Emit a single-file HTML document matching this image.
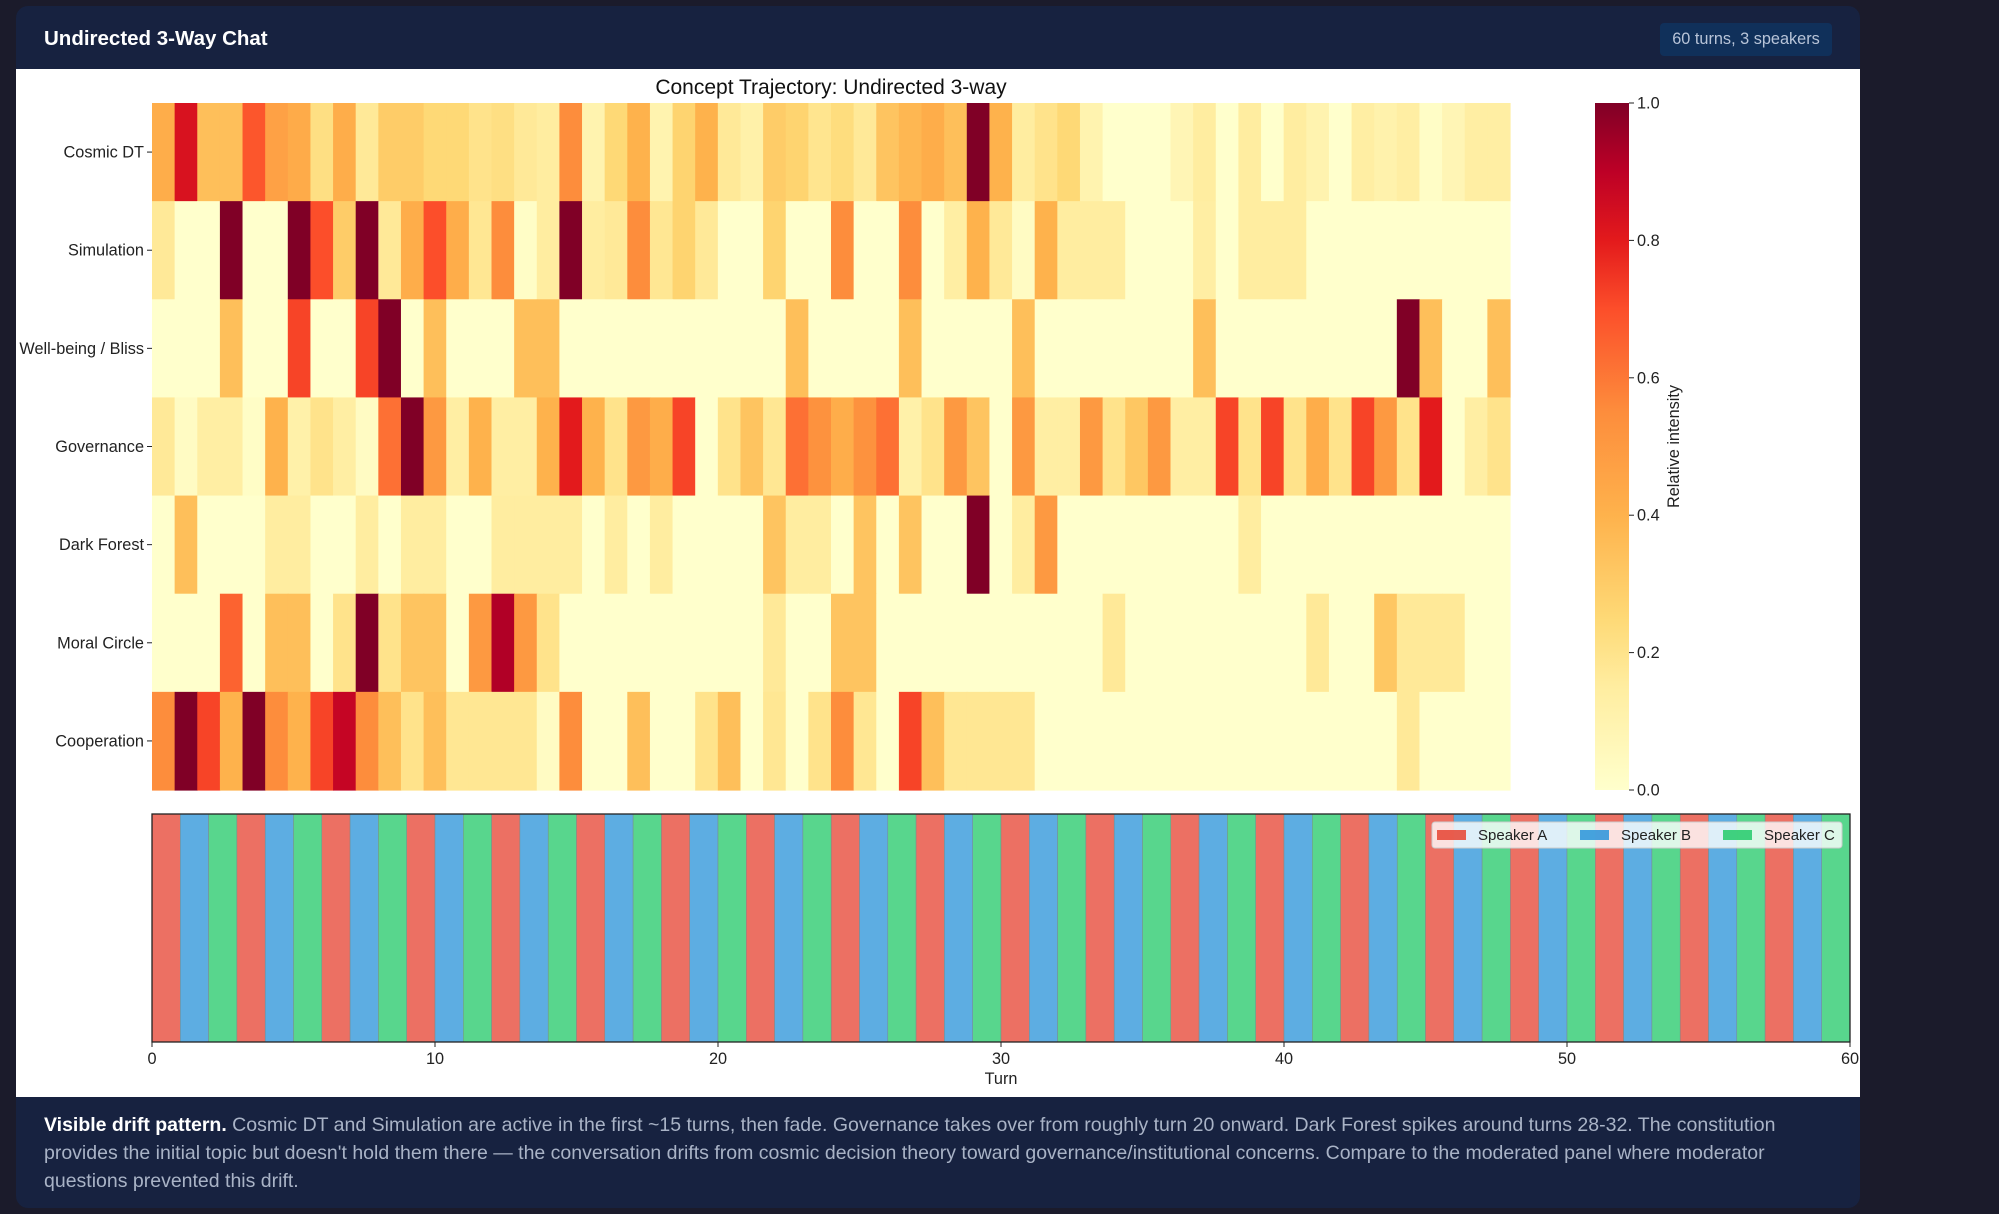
<!DOCTYPE html>
<html><head><meta charset="utf-8"><style>
body{margin:0;width:1999px;height:1214px;background:#1b1b2b;font-family:"Liberation Sans",sans-serif;overflow:hidden;position:relative}
#card{position:absolute;left:16px;top:6px;width:1844px;height:1202px;background:#172240;border-radius:12px;overflow:hidden}
#title{position:absolute;left:28px;top:21px;color:#fff;font-weight:bold;font-size:20.5px}
#badge{position:absolute;left:1644px;top:17px;width:172px;height:33px;background:#10305a;border-radius:4px;color:#b8c4d8;font-size:16.3px;line-height:33px;text-align:center}
#panel{position:absolute;left:0;top:63px;width:1844px;height:1028px;background:#fff}
#desc{position:absolute;left:28px;top:1105px;width:1800px;color:#a9b3c6;font-size:19.5px;line-height:28px;white-space:nowrap}
#desc b{color:#fff}
</style></head><body>
<div id="card">
<div id="title">Undirected 3-Way Chat</div>
<div id="badge">60 turns, 3 speakers</div>
<div id="panel"></div>
<div id="desc"><b>Visible drift pattern.</b> Cosmic DT and Simulation are active in the first ~15 turns, then fade. Governance takes over from roughly turn 20 onward. Dark Forest spikes around turns 28-32. The constitution<br>provides the initial topic but doesn't hold them there — the conversation drifts from cosmic decision theory toward governance/institutional concerns. Compare to the moderated panel where moderator<br>questions prevented this drift.</div>
</div>
<svg id="chart" width="1999" height="1214" style="position:absolute;left:0;top:0"></svg>
<script>
const concepts=["Cosmic DT","Simulation","Well-being / Bliss","Governance","Dark Forest","Moral Circle","Cooperation"];
const rowCosmic=[0.42,0.83,0.35,0.35,0.68,0.47,0.43,0.22,0.42,0.17,0.3,0.3,0.25,0.25,0.2,0.22,0.17,0.15,0.55,0.1,0.25,0.4,0.1,0.27,0.4,0.17,0.12,0.3,0.27,0.19,0.23,0.17,0.33,0.38,0.42,0.35,1.0,0.4,0.15,0.2,0.25,0.1,0,0,0,0.08,0.15,0,0.15,0,0.15,0.1,0,0.14,0.11,0.14,0.02,0.08,0.14,0.14];
const rowSimulation=[0.17,0,0,1.0,0,0,1.0,0.7,0.3,1.0,0.17,0.42,0.7,0.42,0.18,0.55,0.02,0.15,1.0,0.15,0.17,0.55,0.18,0.27,0.17,0,0,0.27,0,0,0.55,0,0,0.55,0,0.14,0.4,0.17,0.03,0.4,0.15,0.15,0.15,0,0,0,0.14,0,0.15,0.15,0.15,0,0,0,0,0,0,0,0,0];
const rowWellbeing=[0,0,0,0.35,0,0,0.72,0,0,0.72,1.0,0,0.35,0,0,0,0.35,0.35,0,0,0,0,0,0,0,0,0,0,0.35,0,0,0,0,0.35,0,0,0,0,0.35,0,0,0,0,0,0,0,0.35,0,0,0,0,0,0,0,0,1.0,0.35,0,0,0.35];
const rowGovernance=[0.17,0.03,0.14,0.14,0.02,0.4,0.12,0.2,0.14,0.03,0.62,1.0,0.5,0.14,0.4,0.14,0.14,0.4,0.8,0.4,0.2,0.5,0.42,0.72,0,0.2,0.33,0.18,0.62,0.53,0.42,0.53,0.62,0.12,0.2,0.5,0.33,0,0.5,0.14,0.14,0.5,0.2,0.32,0.5,0.14,0.14,0.72,0.2,0.72,0.2,0.42,0.2,0.72,0.5,0.2,0.8,0,0.14,0.2];
const rowDarkForest=[0,0.35,0,0,0,0.15,0.15,0,0,0.15,0,0.15,0.15,0,0,0.15,0.15,0.15,0.15,0,0.15,0,0.15,0,0,0,0,0.33,0.15,0.15,0,0.33,0,0.33,0,0,1.0,0,0.15,0.5,0,0,0,0,0,0,0,0,0.15,0,0,0,0,0,0,0,0,0,0,0];
const rowMoral=[0,0,0,0.65,0,0.35,0.35,0,0.2,1.0,0.2,0.33,0.33,0,0.5,0.92,0.5,0.2,0,0,0,0,0,0,0,0,0,0.17,0,0,0.33,0.33,0,0,0,0,0,0,0,0,0,0,0.17,0,0,0,0,0,0,0,0,0.17,0,0,0.32,0.17,0.17,0.17,0,0];
const rowCooperation=[0.55,1.0,0.72,0.4,1.0,0.55,0.4,0.72,0.88,0.55,0.35,0.2,0.35,0.18,0.18,0.18,0.18,0.03,0.55,0,0,0.35,0,0,0.2,0.35,0,0.18,0,0.2,0.55,0.18,0,0.72,0.35,0.18,0.18,0.18,0.18,0,0,0,0,0,0,0,0,0,0,0,0,0,0,0,0,0.17,0,0,0,0];
const speakerOrder=["A","B","C"];
const speakerNames=["Speaker A","Speaker B","Speaker C"];
const turnTicks=[0,10,20,30,40,50,60];
const cbarTicks=[0,0.2,0.4,0.6,0.8,1.0];
const rows=[rowCosmic,rowSimulation,rowWellbeing,rowGovernance,rowDarkForest,rowMoral,rowCooperation];

const NS="http://www.w3.org/2000/svg";
const svg=document.getElementById('chart');
function mk(t,a,p){const e=document.createElementNS(NS,t);for(const k in a)e.setAttribute(k,a[k]);(p||svg).appendChild(e);return e;}
const stops=[[0,[255,255,204]],[0.15,[255,237,160]],[0.25,[254,217,118]],[0.4,[254,178,76]],[0.55,[253,141,60]],[0.7,[252,78,42]],[0.8,[227,26,28]],[0.9,[189,0,38]],[1,[128,0,38]]];
function cmap(v){v=Math.max(0,Math.min(1,v));for(let i=1;i<stops.length;i++){if(v<=stops[i][0]){const a=stops[i-1],b=stops[i];const t=(v-a[0])/(b[0]-a[0]);const c=a[1].map((x,j)=>Math.round(x+(b[1][j]-x)*t));return `rgb(${c})`;}}return 'rgb(128,0,38)';}
const HX0=152,HX1=1510,HY0=103,HY1=790;
const FS=16.3;
const nT=rows[0].length;
const cw=(HX1-HX0)/nT, rh=(HY1-HY0)/concepts.length;
const hx=i=>HX0+i*cw, hy=r=>HY0+r*rh;
let t=mk('text',{x:(HX0+HX1)/2,y:94,'text-anchor':'middle','font-size':21,fill:'#111'});t.textContent="Concept Trajectory: Undirected 3-way";


rows.forEach((row,r)=>{
  row.forEach((v,i)=>{
    const c=mk('rect',{x:hx(i),y:hy(r),width:cw+0.6,height:rh+0.6,fill:cmap(v)});
    
    
  });
  const cy=hy(r)+rh/2;
  mk('line',{x1:HX0-5,x2:HX0,y1:cy,y2:cy,stroke:'#222'});
  const l=mk('text',{x:HX0-8,y:cy+5.5,'text-anchor':'end','font-size':FS,fill:'#222'});l.textContent=concepts[r];
  
  
});
const CX0=1595,CX1=1629;
const g=mk('linearGradient',{id:'cg',x1:0,y1:1,x2:0,y2:0},mk('defs',{}));
stops.forEach(s=>mk('stop',{offset:s[0],'stop-color':`rgb(${s[1]})`},g));
const cb=mk('rect',{x:CX0,y:HY0,width:CX1-CX0,height:HY1-HY0,fill:'url(#cg)'});


const cyv=v=>HY1-v*(HY1-HY0);
cbarTicks.forEach(v=>{mk('line',{x1:CX1,x2:CX1+5,y1:cyv(v),y2:cyv(v),stroke:'#222'});
 const l=mk('text',{x:CX1+8,y:cyv(v)+5.5,'font-size':FS,fill:'#222'});l.textContent=v.toFixed(1);
 
 });
t=mk('text',{transform:`translate(1679,${(HY0+HY1)/2}) rotate(-90)`,'text-anchor':'middle','font-size':FS,fill:'#222'});t.textContent="Relative intensity";


const SX0=152,SX1=1850,SY0=814,SY1=1042;
const sx=v=>SX0+v*(SX1-SX0)/60;
const scol={A:'#ec7063',B:'#5dade2',C:'#58d68d'};
for(let i=0;i<nT;i++){const s=speakerOrder[i%3];
 const b=mk('rect',{x:sx(i),y:SY0,width:sx(i+1)-sx(i),height:SY1-SY0,fill:scol[s],stroke:'#7a8a8a','stroke-width':0.5});
 
 }
mk('rect',{x:SX0,y:SY0,width:SX1-SX0,height:SY1-SY0,fill:'none',stroke:'#222','stroke-width':1.3});
turnTicks.forEach(v=>{mk('line',{x1:sx(v),x2:sx(v),y1:SY1,y2:SY1+5,stroke:'#222'});
 const l=mk('text',{x:sx(v),y:SY1+22,'text-anchor':'middle','font-size':FS,fill:'#222'});l.textContent=v;
 
 });
t=mk('text',{x:(SX0+SX1)/2,y:1084,'text-anchor':'middle','font-size':FS,fill:'#222'});t.textContent="Turn";


const lg=mk('rect',{x:1432,y:822,width:410,height:26,rx:3,fill:'#fff','fill-opacity':0.8,stroke:'#ccc'});


const lcol=['#e74c3c','#3498db','#2ecc71'];
speakerNames.forEach((n,i)=>{const x0=1437+i*143;
 mk('rect',{x:x0,y:830,width:29,height:10,fill:lcol[i],'fill-opacity':0.9});
 const l=mk('text',{x:x0+41,y:840,'font-size':15,fill:'#222'});l.textContent=n;
 
 });
</script>
</body></html>
